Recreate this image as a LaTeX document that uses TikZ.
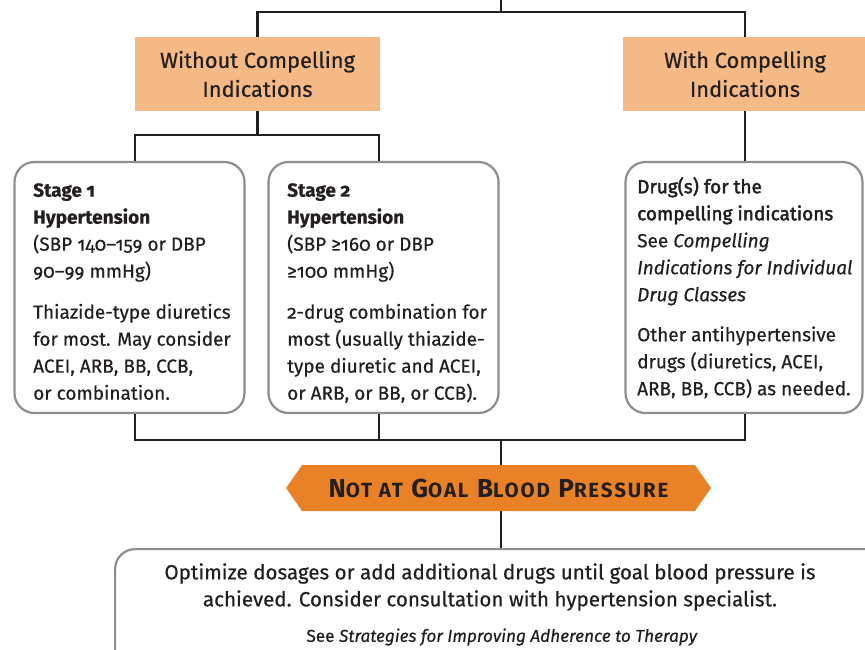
\documentclass[tikz,border=0pt]{standalone}
\usepackage{fontspec}
\setmainfont{Fira Sans}[Numbers=OldStyle,FakeBold=0.5]
\newfontfamily\medfont{Fira Sans}[FakeBold=2.4,Numbers=OldStyle]
\newfontfamily\hexfont{Fira Sans Bold}[LetterSpace=9]
\usetikzlibrary{shapes.symbols,calc}
\definecolor{lightor}{HTML}{F4B985}
\definecolor{hexor}{HTML}{E98226}
\definecolor{boxgray}{HTML}{8E8E8E}
\definecolor{txt}{HTML}{231F20}
\tikzset{
  conn/.style={draw=txt,line width=2.6pt},
  obox/.style={fill=lightor,inner sep=0pt,align=center,text=txt,
    font=\fontsize{21.8}{29}\selectfont},
  gbox/.style={draw=boxgray,line width=2.2pt,rounded corners=20pt,fill=white,inner sep=0pt},
  btxt/.style={anchor=north west,inner sep=0pt,align=left,text=txt,
    font=\fontsize{19}{27}\selectfont},
  hexbox/.style={signal,signal to=west and east,signal pointer angle=110,fill=hexor,
    inner sep=0pt,minimum width=425pt,minimum height=46pt,text=txt},
}
\begin{document}
\begin{tikzpicture}[x=1pt,y=-1pt]
\useasboundingbox (0,0) rectangle (865,649);
\clip (0,0) rectangle (865,649);
\fill[white] (0,0) rectangle (865,649);
% orange boxes
\node[obox,minimum width=245pt,minimum height=74pt] (w) at (257.5,74) {Without Compelling\\Indications};
\node[obox,minimum width=244pt,minimum height=74pt] (c) at (745,74) {With Compelling\\Indications};
% gray boxes
\node[gbox,minimum width=230pt,minimum height=251pt] (s1) at (129.5,287.5) {};
\node[gbox,minimum width=230pt,minimum height=251pt] (s2) at (383.5,287.5) {};
\node[gbox,minimum width=237pt,minimum height=251pt] (d) at (744,287.5) {};
% hexagon
\node[hexbox] (h) at (498.5,488) {};
% bottom box
\node[gbox,minimum width=800pt,minimum height=200pt,anchor=north west] (b) at (114,548) {};
% connectors
\coordinate (top) at (501,0);
\coordinate (j1) at (501,12);
\coordinate (j2) at (135,135);
\coordinate (j3) at (379,135);
\coordinate (k1) at (135,440);
\coordinate (k2) at (379,440);
\coordinate (k3) at (745,440);
\coordinate (k0) at (501,440);
\draw[conn] (top) -- (j1);
\draw[conn] (w.north) |- (j1) -| (c.north);
\draw[conn] (w.south) -- (w.south |- j2);
\draw[conn] (j2 |- s1.north) -- (j2) -- (j3) -- (j3 |- s2.north);
\draw[conn] (c.south) -- (c.south |- d.north);
\draw[conn] (k1 |- s1.south) -- (k1) -- (k3) -- (k3 |- d.south);
\draw[conn] (k2 |- s2.south) -- (k2);
\draw[conn] (k0) -- (k0 |- h.north);
\draw[conn] (h.south -| k0) -- (k0 |- b.north);
% texts
\node[btxt] (t1) at (33,183) {\bfseries Stage 1\\\bfseries Hypertension\\(SBP 140–159 or DBP\\90–99 mmHg)\\[14pt]Thiazide-type diuretics\\for most. May consider\\ACEI, ARB, BB, CCB,\\or combination.};
\node[btxt] (t2) at (287,183) {\bfseries Stage 2\\\bfseries Hypertension\\(SBP ≥160 or DBP\\≥100 mmHg)\\[14pt]2-drug combination for\\most (usually thiazide-\\type diuretic and ACEI,\\or ARB, or BB, or CCB).};
\node[btxt] (t3) at (637,177) {{\medfont Drug(s) for the}\\{\medfont compelling indications}\\See \textit{Compelling}\\\textit{Indications for Individual}\\\textit{Drug Classes}\\[13pt]Other antihypertensive\\drugs (diuretics, ACEI,\\ARB, BB, CCB) as needed.};
\node[text=txt,font=\hexfont\fontsize{26}{28}\selectfont,inner sep=0pt] (ht) at (498.5,488) {N{\fontsize{20.5}{28}\selectfont OT AT} G{\fontsize{20.5}{28}\selectfont OAL} B{\fontsize{20.5}{28}\selectfont LOOD} P{\fontsize{20.5}{28}\selectfont RESSURE}};
\node[text=txt,align=center,inner sep=0pt,font=\fontsize{20.6}{27}\selectfont] (bt) at (490,587) {Optimize dosages or add additional drugs until goal blood pressure is\\achieved. Consider consultation with hypertension specialist.};
\node[text=txt,inner sep=0pt,font=\fontsize{17.2}{18}\selectfont] (st) at (502,637) {See \textit{Strategies for Improving Adherence to Therapy}};
\end{tikzpicture}
\end{document}
